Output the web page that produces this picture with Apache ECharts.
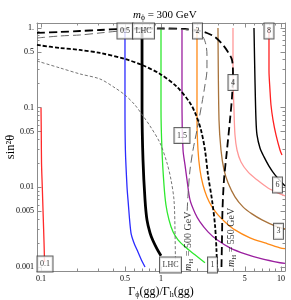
<!DOCTYPE html>
<html><head><meta charset="utf-8">
<script src="https://cdn.jsdelivr.net/npm/echarts@6/dist/echarts.min.js"></script>
<style>html,body{margin:0;padding:0;background:#fff}#c{width:291px;height:300px}</style>
</head><body><div id="c"></div>
<script>
// ---- tick values / labels ----
const xTickMajor = [0.1, 0.5, 1, 5, 10];
const xTickLabels = ['0.1', '0.5', '1', '5', '10'];
const xTickMinor = [0.2, 0.3, 0.4, 0.6, 0.7, 0.8, 0.9, 2, 3, 4, 6, 7, 8, 9];
const yTickMajor = [0.001, 0.005, 0.01, 0.05, 0.1, 0.5, 1];
const yTickLabels = ['0.001', '0.005', '0.01', '0.05', '0.1', '0.5', '1.'];
const yTickMinor = [0.002, 0.003, 0.004, 0.006, 0.007, 0.008, 0.009,
  0.02, 0.03, 0.04, 0.06, 0.07, 0.08, 0.09, 0.2, 0.3, 0.4, 0.6, 0.7, 0.8, 0.9];

// ---- contour curves [ratio, sin^2 theta] ----
const c01 = [[0.1,0.1],[0.1005,0.05],[0.101,0.02],[0.1025,0.01],[0.104,0.005],[0.106,0.002],[0.107,0.00115]];
const c05 = [[0.501,1],[0.501,0.1],[0.505,0.0294],[0.521,0.0101],[0.531,0.00695],[0.562,0.00268],[0.596,0.002],[0.631,0.00164],[0.681,0.00126],[0.736,0.001]];
const cLHC = [[0.695,1],[0.695,0.1],[0.708,0.0221],[0.736,0.00695],[0.764,0.0039],[0.81,0.00268],[0.858,0.00213],[0.926,0.00169],[1.0,0.00138]];
const c1 = [[1,1],[1,0.1],[1.019,0.0294],[1.059,0.0107],[1.1,0.006],[1.166,0.0039],[1.259,0.00276],[1.386,0.00219],[1.585,0.00179],[1.919,0.00142],[2.326,0.00113]];
const c15 = [[1.496,1],[1.496,0.1],[1.526,0.0294],[1.585,0.0191],[1.647,0.0124],[1.745,0.00695],[1.919,0.00477],[2.113,0.00368],[2.465,0.00276],[2.929,0.00219],[3.758,0.00174],[5.012,0.00146],[6.945,0.00126],[9.81,0.00113],[10.8,0.00111]];
const c2 = [[1.995,1],[1.995,0.0701],[2.034,0.0294],[2.113,0.0165],[2.239,0.0107],[2.416,0.00758],[2.661,0.00568],[2.985,0.00451],[3.415,0.00368],[4.136,0.00292],[5.516,0.00232],[7.356,0.002],[9.81,0.00174],[10.8,0.0017]];
const c3 = [[2.985,1],[3.044,0.0701],[3.162,0.0294],[3.35,0.0165],[3.617,0.0114],[4.136,0.00758],[4.823,0.00568],[5.731,0.00464],[6.945,0.0039],[8.913,0.00328],[10.8,0.003]];
const c4 = [[3.981,1],[3.981,0.257],[4.058,0.0935],[4.136,0.0454],[4.3,0.0294],[4.642,0.0208],[5.309,0.0156],[6.31,0.0124],[7.79,0.0098],[9.81,0.00826],[10.8,0.0078]];
const c6 = [[5.957,1],[6.07,0.223],[6.19,0.0701],[6.31,0.0454],[6.683,0.0312],[7.22,0.0241],[7.943,0.0185],[8.913,0.0143],[10.19,0.0114],[10.8,0.0104]];
const c8 = [[7.943,1],[7.943,0.297],[8.094,0.167],[8.254,0.108],[8.577,0.0701],[9.085,0.0454],[9.81,0.0294],[10.19,0.0255]];

// dashed curves
const dMH550 = [[0.0926,0.866],[0.144,0.891],[0.211,0.917],[0.31,0.944],[0.455,0.971],[0.668,0.986],[0.981,0.986],[1.585,0.971],[2.113,0.917],[2.416,0.866],[2.818,0.771],[3.286,0.612],[3.617,0.5],[3.906,0.397],[3.981,0.257],[3.906,0.136],[3.758,0.0701],[3.548,0.0294],[3.35,0.0124],[3.254,0.0052],[3.223,0.00219],[3.192,0.001]];
const dMH500 = [[0.0926,0.749],[0.144,0.794],[0.211,0.817],[0.31,0.866],[0.455,0.917],[0.668,0.958],[0.981,0.971],[1.585,0.958],[2.034,0.866],[2.239,0.771],[2.371,0.612],[2.416,0.458],[2.416,0.297],[2.326,0.193],[2.196,0.1146],[1.995,0.0525],[1.848,0.0294],[1.745,0.0165],[1.679,0.008],[1.647,0.00451]];
const dBlack = [[0.0926,0.612],[0.144,0.561],[0.211,0.53],[0.31,0.486],[0.501,0.408],[0.695,0.343],[0.981,0.265],[1.359,0.182],[1.745,0.1146],[1.957,0.081],[2.154,0.0525],[2.326,0.0294],[2.465,0.0143],[2.661,0.00695],[2.818,0.00337],[2.9,0.00164],[2.929,0.001]];
const dGray = [[0.0926,0.385],[0.144,0.315],[0.211,0.265],[0.31,0.229],[0.414,0.177],[0.501,0.144],[0.607,0.108],[0.708,0.0787],[0.81,0.0589],[0.981,0.036],[1.122,0.0202],[1.212,0.0124],[1.283,0.00695],[1.308,0.00292],[1.321,0.001]];

// box labels [x, y, text]
const boxLabels = [[0.501,0.917,'0.5'],[0.715,0.917,'LHC'],[2.014,0.917,'2'],[7.943,0.917,'8'],
  [3.981,0.207,'4'],[1.496,0.0448,'1.5'],[9.35,0.0107,'6'],[9.53,0.0028,'3'],
  [2.687,0.00106,'1'],[1.2,0.00106,'LHC'],[0.108,0.00109,'0.1']];
const massLabels = [[1.679,0.0021,'500'],[3.831,0.00235,'550']];

const XMIN = 0.0926, XMAX = 10.8, YMIN = 0.00089, YMAX = 1.155;

const lg = Math.log10;
const F = 'Liberation Serif, Times New Roman, serif';
const conv = a => a.map(p => [lg(p[0]), lg(p[1])]);
function fmt(vals, labels) {
  return v => { let bi = 0, bd = 1e9; vals.forEach((t, i) => { const d = Math.abs(lg(t) - v); if (d < bd) { bd = d; bi = i; } }); return labels[bi]; };
}
function mkAxis(kind, pos, ticks, len, showLine, labels) {
  const ax = {
    type: 'value', position: pos, gridIndex: 0,
    min: kind === 'x' ? lg(XMIN) : lg(YMIN), max: kind === 'x' ? lg(XMAX) : lg(YMAX),
    splitLine: { show: false },
    axisLine: { show: showLine, onZero: false, lineStyle: { color: '#8c8c8c', width: 1 } },
    axisTick: { show: true, inside: true, length: len, customValues: ticks.map(lg), lineStyle: { color: '#8c8c8c', width: 1 } },
    axisLabel: { show: false },
    axisPointer: { show: false }
  };
  if (labels) {
    ax.axisLabel = { show: true, customValues: ticks.map(lg), formatter: fmt(ticks, labels), fontFamily: F, fontSize: 8, color: '#000', margin: kind === 'x' ? 4 : 3 };
  }
  return ax;
}
const xAxes = [
  mkAxis('x', 'bottom', xTickMajor, 4.5, true, xTickLabels),
  mkAxis('x', 'bottom', xTickMinor, 2.5, false),
  mkAxis('x', 'top', xTickMajor, 4.5, true),
  mkAxis('x', 'top', xTickMinor, 2.5, false)
];
xAxes[0].name = '{a|Γ}{s|ϕ}{a|(gg)/Γ}{s|h}{a|(gg)}';
xAxes[0].nameLocation = 'middle';
xAxes[0].nameGap = 13;
xAxes[0].nameMoveOverlap = false;
xAxes[0].nameTextStyle = { rich: { a: { fontFamily: F, fontSize: 12, color: '#000', lineHeight: 15 }, s: { fontFamily: F, fontSize: 8, color: '#000', padding: [7, 0, 0, 0] } } };
const yAxes = [
  mkAxis('y', 'left', yTickMajor, 4.5, true, yTickLabels),
  mkAxis('y', 'left', yTickMinor, 2.5, false),
  mkAxis('y', 'right', yTickMajor, 4.5, true),
  mkAxis('y', 'right', yTickMinor, 2.5, false)
];
yAxes[0].name = 'sin²θ';
yAxes[0].nameLocation = 'middle';
yAxes[0].nameGap = 20;
yAxes[0].nameRotate = 90;
yAxes[0].nameMoveOverlap = false;
yAxes[0].nameTextStyle = { fontFamily: F, fontSize: 12.5, color: '#000' };

function line(data, color, width, dash) {
  return { type: 'line', data: conv(data), showSymbol: false, smooth: 0.3, xAxisIndex: 0, yAxisIndex: 0,
    lineStyle: { color, width, type: dash || 'solid' }, z: 3, silent: true };
}
const series = [
  line(c01, '#ff2a2a', 1.3),
  line(c05, '#2b2bff', 1.3),
  line(cLHC, '#000', 2.8),
  line(c1, '#2ee82e', 1.3),
  line(c15, '#9a1f9f', 1.3),
  line(c2, '#ff8a16', 1.3),
  line(c3, '#a8723a', 1.3),
  line(c4, '#ff9898', 1.3),
  line(c6, '#000', 1.4),
  line(c8, '#ff2020', 1.3),
  line(dMH550, '#000', 1.8, [8, 4]),
  line(dMH500, '#666', 1.0, [8, 4]),
  line(dBlack, '#000', 1.8, [4, 2]),
  line(dGray, '#666', 0.9, [3, 2]),
  {
    type: 'scatter', xAxisIndex: 0, yAxisIndex: 0, symbol: 'circle', symbolSize: 2, itemStyle: { color: 'rgba(0,0,0,0)' }, z: 10, silent: true,
    labelLayout: { hideOverlap: false },
    data: boxLabels.map(b => ({ value: [lg(b[0]), lg(b[1])], name: b[2] })),
    label: { show: true, position: 'inside', formatter: '{b}', fontFamily: F, fontSize: 8, color: '#000',
      backgroundColor: '#fff', borderColor: '#3a3a3a', borderWidth: 1, padding: [4, 2.5, 3, 2.5], lineHeight: 8 }
  },
  {
    type: 'scatter', xAxisIndex: 0, yAxisIndex: 0, symbol: 'circle', symbolSize: 2, itemStyle: { color: 'rgba(0,0,0,0)' }, z: 10, silent: true,
    labelLayout: { hideOverlap: false },
    data: massLabels.map(b => ({ value: [lg(b[0]), lg(b[1])], name: b[2] })),
    label: { show: true, position: 'inside', rotate: 90, formatter: p => '{m|m}{s|H}{n| = ' + p.name + ' GeV}',
      rich: { m: { fontFamily: F, fontSize: 10, fontStyle: 'italic', color: '#000', lineHeight: 13 },
              s: { fontFamily: F, fontSize: 7, color: '#000', padding: [6, 0, 0, 0] },
              n: { fontFamily: F, fontSize: 10, color: '#000', lineHeight: 13 } } }
  }
];

const chart = echarts.init(document.getElementById('c'), null, { renderer: 'canvas' });
chart.setOption({
  animation: false,
  backgroundColor: '#fff',
  title: {
    text: '{m|m}{s|ϕ}{n| = 300 GeV}', left: 128, top: 3,
    textStyle: { fontWeight: 'normal', rich: {
      m: { fontFamily: F, fontSize: 11, fontStyle: 'italic', fontWeight: 'normal', color: '#000', lineHeight: 14 },
      s: { fontFamily: F, fontSize: 7.5, fontWeight: 'normal', color: '#000', padding: [6, 0, 0, 0] },
      n: { fontFamily: F, fontSize: 11, fontWeight: 'normal', color: '#000', lineHeight: 14 } } }
  },
  grid: { left: 37, right: 6, top: 23, bottom: 29, containLabel: false, outerBoundsMode: 'none' },
  xAxis: xAxes,
  yAxis: yAxes,
  series
});
</script></body></html>
